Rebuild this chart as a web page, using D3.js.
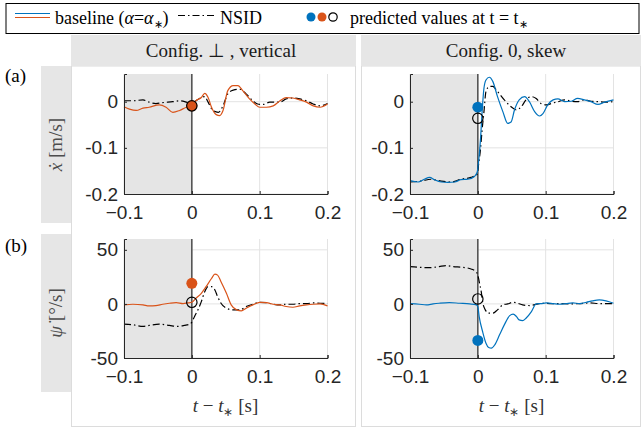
<!DOCTYPE html>
<html>
<head>
<meta charset="utf-8">
<script src="https://cdn.jsdelivr.net/npm/d3@7"></script>
<style>
  body { margin: 0; background: #fff; }
  svg { display: block; }
</style>
</head>
<body>
<svg id="chart" width="644" height="428"></svg>
<script>
// tick values
const xTicks = [-0.1, 0, 0.1, 0.2];
const yTicksVel = [-0.2, -0.1, 0];
const yTicksYaw = [-50, 0, 50];

// (a) Config ⊥, vertical : x-dot [m/s]
const aLeftBase = [[-0.1,-0.011],[-0.092,-0.016],[-0.082,-0.019],[-0.072,-0.014],[-0.063,-0.012],[-0.048,-0.007],[-0.038,-0.012],[-0.028,-0.023],[-0.018,-0.019],[-0.008,-0.012],[0,-0.009],[0.006,0.002],[0.014,0.009],[0.019,0.018],[0.024,0.009],[0.029,-0.012],[0.036,-0.028],[0.041,-0.030],[0.046,-0.019],[0.053,0.024],[0.061,0.035],[0.068,0.035],[0.075,0.024],[0.085,0.006],[0.093,-0.005],[0.1,-0.012],[0.11,-0.012],[0.12,-0.009],[0.13,0.002],[0.139,0.009],[0.149,0.008],[0.159,0.004],[0.169,-0.001],[0.179,-0.009],[0.189,-0.012],[0.2,-0.005]];
const aLeftNsid = [[-0.1,0.002],[-0.087,0.002],[-0.072,0.004],[-0.063,-0.001],[-0.053,-0.004],[-0.043,-0.002],[-0.028,0],[-0.018,0.002],[-0.008,-0.001],[0,-0.005],[0.006,0.002],[0.014,0.009],[0.019,0.011],[0.024,-0.001],[0.031,-0.019],[0.039,-0.023],[0.046,-0.009],[0.053,0.017],[0.061,0.025],[0.071,0.027],[0.08,0.017],[0.09,0.002],[0.097,-0.005],[0.105,-0.006],[0.115,-0.001],[0.13,-0.001],[0.139,0.006],[0.149,0.008],[0.159,0.006],[0.169,0.002],[0.179,-0.005],[0.189,-0.009],[0.2,-0.004]];
const aLeftPred = { base: -0.009, nsid: -0.009 };

// (a) Config 0, skew
const aRightBase = [[-0.1,-0.171],[-0.088,-0.174],[-0.079,-0.168],[-0.071,-0.164],[-0.064,-0.169],[-0.054,-0.174],[-0.044,-0.175],[-0.034,-0.174],[-0.025,-0.169],[-0.015,-0.168],[-0.005,-0.162],[-0.001,-0.153],[0.0015,-0.124],[0.004,-0.080],[0.006,-0.029],[0.009,0.029],[0.012,0.047],[0.017,0.053],[0.022,0.044],[0.029,0.011],[0.037,-0.022],[0.044,-0.047],[0.049,-0.044],[0.054,-0.018],[0.061,0.004],[0.069,0.011],[0.076,0],[0.084,-0.022],[0.091,-0.031],[0.096,-0.026],[0.103,-0.007],[0.111,0.004],[0.118,0.006],[0.128,0],[0.138,0.001],[0.147,0.007],[0.157,0.004],[0.167,0],[0.177,-0.006],[0.187,-0.001],[0.2,0.004]];
const aRightNsid = [[-0.1,-0.174],[-0.084,-0.172],[-0.069,-0.168],[-0.054,-0.172],[-0.039,-0.174],[-0.025,-0.168],[-0.010,-0.164],[-0.001,-0.157],[0.0015,-0.131],[0.004,-0.102],[0.006,-0.066],[0.009,-0.022],[0.012,0.022],[0.017,0.033],[0.022,0.033],[0.029,0.022],[0.039,0.004],[0.049,-0.011],[0.057,-0.018],[0.064,-0.011],[0.071,0.004],[0.079,0.011],[0.086,0.007],[0.093,-0.004],[0.101,-0.007],[0.108,-0.004],[0.118,0],[0.128,0.004],[0.138,0.001],[0.147,0],[0.157,0.004],[0.167,0.001],[0.177,0],[0.187,-0.001],[0.2,0]];
const aRightPred = { base: -0.012, nsid: -0.036 };

// (b) Config ⊥, vertical : psi-dot [deg/s]
const bLeftBase = [[-0.1,-0.9],[-0.087,-0.3],[-0.072,-0.9],[-0.063,-1.8],[-0.053,-1.5],[-0.043,-0.3],[-0.033,0.6],[-0.023,1.2],[-0.013,0.3],[-0.006,0.9],[0,1.5],[0.006,5.2],[0.014,9.8],[0.021,15.9],[0.029,23.5],[0.034,27.5],[0.038,26.6],[0.043,20.5],[0.051,9.8],[0.058,-0.9],[0.066,-5.5],[0.073,-6.4],[0.08,-4.0],[0.09,-0.9],[0.1,1.5],[0.11,1.2],[0.12,-0.3],[0.13,-0.9],[0.139,-2.4],[0.149,-3.1],[0.159,-1.8],[0.169,-0.9],[0.179,-0.3],[0.189,0],[0.2,-1.8]];
const bLeftNsid = [[-0.1,-18.7],[-0.087,-19.3],[-0.072,-20.8],[-0.063,-19.9],[-0.048,-18.7],[-0.033,-19.9],[-0.021,-20.8],[-0.011,-19.9],[-0.003,-18.7],[0,-16.8],[0.004,-11.6],[0.009,-5.5],[0.014,2.1],[0.019,11.3],[0.024,15.9],[0.029,15.9],[0.034,12.8],[0.038,6.7],[0.043,0.6],[0.051,-4.0],[0.061,-5.5],[0.071,-5.5],[0.08,-2.4],[0.09,-0.3],[0.1,1.5],[0.11,1.2],[0.12,-0.3],[0.13,-0.9],[0.139,-0.3],[0.149,-0.3],[0.159,0.3],[0.169,0.3],[0.179,0.9],[0.189,0.6],[0.2,0.3]];
const bLeftPred = { base: 19, nsid: 1.5 };

// (b) Config 0, skew
const bRightBase = [[-0.1,0.3],[-0.086,-0.3],[-0.076,-0.9],[-0.066,0],[-0.057,0.6],[-0.042,1.2],[-0.027,0.6],[-0.012,0],[-0.002,-0.9],[0,-2.5],[0.002,-11.7],[0.007,-25.5],[0.012,-36.3],[0.016,-40.3],[0.02,-40.9],[0.025,-37.8],[0.032,-28.6],[0.039,-19.4],[0.047,-10.8],[0.052,-9.5],[0.057,-11.7],[0.061,-14.8],[0.066,-15.4],[0.071,-13.2],[0.079,-7.1],[0.086,0],[0.093,0.3],[0.101,0.9],[0.111,0.3],[0.12,-0.3],[0.13,0.3],[0.14,0.9],[0.15,0.3],[0.16,1.5],[0.169,2.8],[0.179,3.7],[0.189,2.8],[0.2,0.6]];
const bRightNsid = [[-0.1,34.5],[-0.086,33.8],[-0.071,33.5],[-0.057,34.5],[-0.047,35.4],[-0.037,34.5],[-0.022,33.8],[-0.010,32.3],[-0.003,29.8],[0,26.8],[0.002,20.6],[0.005,11.4],[0.007,2.2],[0.011,-5.5],[0.016,-8.6],[0.022,-8.6],[0.029,-5.5],[0.037,-0.9],[0.044,0],[0.052,1.5],[0.059,0.6],[0.066,-0.9],[0.076,-1.5],[0.086,-0.3],[0.096,0.6],[0.106,0.3],[0.12,0.3],[0.135,0],[0.15,0.3],[0.165,0.9],[0.179,0.3],[0.2,0.3]];
const bRightPred = { base: -33.8, nsid: 4.6 };

const blue = "#0072BD", orange = "#D95319";
const SERIF = "'Liberation Serif', 'Times New Roman', serif";
const SANS = "'Liberation Sans', Arial, sans-serif";

const svg = d3.select("#chart");

// legend
const leg = svg.append("g");
leg.append("rect").attr("x", 6).attr("y", 3.5).attr("width", 633).attr("height", 30)
  .attr("fill", "#fff").attr("stroke", "#000").attr("stroke-width", 1);
leg.append("line").attr("x1", 15).attr("x2", 50).attr("y1", 13.5).attr("y2", 13.5).attr("stroke", blue).attr("stroke-width", 1.2);
leg.append("line").attr("x1", 15).attr("x2", 50).attr("y1", 17.5).attr("y2", 17.5).attr("stroke", orange).attr("stroke-width", 1.2);
const t1 = leg.append("text").style("font-family", SERIF).attr("x", 55).attr("y", 23.5).attr("font-size", 18);
t1.append("tspan").text("baseline (");
t1.append("tspan").attr("font-style", "italic").text("α");
t1.append("tspan").text("=");
t1.append("tspan").attr("font-style", "italic").text("α");
t1.append("tspan").attr("font-size", 11).attr("dy", 4).text("∗");
t1.append("tspan").attr("dy", -4).text(")");
leg.append("line").attr("x1", 178).attr("x2", 215).attr("y1", 15.5).attr("y2", 15.5)
  .attr("stroke", "#000").attr("stroke-width", 1.2).attr("stroke-dasharray", "7,3,1.5,3");
leg.append("text").style("font-family", SERIF).attr("x", 220).attr("y", 23.5).attr("font-size", 18).text("NSID");
leg.append("circle").attr("cx", 311).attr("cy", 17).attr("r", 4.5).attr("fill", blue);
leg.append("circle").attr("cx", 322).attr("cy", 17).attr("r", 4.5).attr("fill", orange);
leg.append("circle").attr("cx", 333).attr("cy", 17).attr("r", 4.2).attr("fill", "none").attr("stroke", "#000").attr("stroke-width", 1.2);
const t2 = leg.append("text").style("font-family", SERIF).attr("x", 350).attr("y", 23.5).attr("font-size", 18);
t2.append("tspan").text("predicted values at t = t");
t2.append("tspan").attr("font-size", 11).attr("dy", 4).text("∗");

// column frames and headers
const cols = [
  { x0: 71, x1: 356, title: "Config. ⊥ , vertical", tx: 221 },
  { x0: 361, x1: 641, title: "Config. 0, skew", tx: 506 }
];
cols.forEach(c => {
  svg.append("rect").attr("x", c.x0 + 0.5).attr("y", 66).attr("width", c.x1 - c.x0 - 1).attr("height", 360.5)
    .attr("fill", "#fff").attr("stroke", "#dcdcdc").attr("stroke-width", 1);
  svg.append("rect").attr("x", c.x0).attr("y", 35).attr("width", c.x1 - c.x0).attr("height", 31).attr("fill", "#e6e6e6");
  svg.append("text").style("font-family", SERIF).attr("x", c.tx).attr("y", 57).attr("text-anchor", "middle")
    .attr("font-size", 19).attr("fill", "#1a1a1a").text(c.title);
});

// row strips with y labels
const rows = [
  { y0: 66, y1: 223, tag: "(a)", tagY: 82 },
  { y0: 234, y1: 392, tag: "(b)", tagY: 252 }
];
rows.forEach((r, i) => {
  svg.append("rect").attr("x", 41).attr("y", r.y0).attr("width", 30).attr("height", r.y1 - r.y0).attr("fill", "#e6e6e6");
  svg.append("text").style("font-family", SERIF).attr("x", 5).attr("y", r.tagY).attr("font-size", 19).text(r.tag);
  const cy = (r.y0 + r.y1) / 2;
  const lab = svg.append("text").style("font-family", SERIF).attr("transform", `translate(62,${cy}) rotate(-90)`)
    .attr("text-anchor", "middle").attr("font-size", 19).attr("fill", "#4d4d4d");
  if (i === 0) {
    lab.append("tspan").attr("font-style", "italic").text("ẋ");
    lab.append("tspan").text(" [m/s]");
  } else {
    lab.append("tspan").attr("font-style", "italic").text("ψ̇");
    lab.append("tspan").text(" [°/s]");
  }
});

// x labels
[225.5, 511.5].forEach(cx => {
  const xl = svg.append("text").style("font-family", SERIF).attr("x", cx).attr("y", 412).attr("text-anchor", "middle")
    .attr("font-size", 19).attr("fill", "#333");
  xl.append("tspan").attr("font-style", "italic").text("t");
  xl.append("tspan").text(" − ");
  xl.append("tspan").attr("font-style", "italic").text("t");
  xl.append("tspan").attr("font-size", 12).attr("dy", 4).text("∗");
  xl.append("tspan").attr("dy", -4).text("  [s]");
});

// panels
const panels = [
  { xr: [124, 327.5], yr: [194, 74], yd: [-0.2, 0.06], yt: yTicksVel, base: aLeftBase, nsid: aLeftNsid, pred: aLeftPred, col: orange },
  { xr: [410, 613.5], yr: [194, 74], yd: [-0.2, 0.06], yt: yTicksVel, base: aRightBase, nsid: aRightNsid, pred: aRightPred, col: blue },
  { xr: [124, 327.5], yr: [358, 239], yd: [-50, 60], yt: yTicksYaw, base: bLeftBase, nsid: bLeftNsid, pred: bLeftPred, col: orange },
  { xr: [410, 613.5], yr: [358, 239], yd: [-50, 60], yt: yTicksYaw, base: bRightBase, nsid: bRightNsid, pred: bRightPred, col: blue }
];

panels.forEach(p => {
  const x = d3.scaleLinear().domain([-0.1, 0.2]).range(p.xr);
  const y = d3.scaleLinear().domain(p.yd).range(p.yr);
  const g = svg.append("g");

  // grid
  g.selectAll(".gx").data(xTicks).join("line")
    .attr("x1", d => x(d)).attr("x2", d => x(d)).attr("y1", p.yr[0]).attr("y2", p.yr[1])
    .attr("stroke", "#e3e3e3").attr("stroke-width", 1);
  g.selectAll(".gy").data(p.yt).join("line")
    .attr("x1", p.xr[0]).attr("x2", p.xr[1]).attr("y1", d => y(d)).attr("y2", d => y(d))
    .attr("stroke", "#e3e3e3").attr("stroke-width", 1);

  // shaded pre-event region
  g.append("rect").attr("x", x(-0.1)).attr("y", p.yr[1]).attr("width", x(0) - x(-0.1)).attr("height", p.yr[0] - p.yr[1])
    .attr("fill", "#e5e5e5");
  g.append("line").attr("x1", x(0)).attr("x2", x(0)).attr("y1", p.yr[0]).attr("y2", p.yr[1])
    .attr("stroke", "#404040").attr("stroke-width", 1.4);

  const line = d3.line().x(d => x(d[0])).y(d => y(d[1])).curve(d3.curveMonotoneX);
  g.append("path").attr("d", line(p.nsid)).attr("fill", "none").attr("stroke", "#000")
    .attr("stroke-width", 1.2).attr("stroke-dasharray", "7,3,1.5,3");
  g.append("path").attr("d", line(p.base)).attr("fill", "none").attr("stroke", p.col).attr("stroke-width", 1.2);

  g.append("circle").attr("cx", x(0)).attr("cy", y(p.pred.base)).attr("r", 5.5).attr("fill", p.col);
  g.append("circle").attr("cx", x(0)).attr("cy", y(p.pred.nsid)).attr("r", 5.2).attr("fill", "none")
    .attr("stroke", "#000").attr("stroke-width", 1.2);

  // axes
  const ax = g.append("g").attr("transform", `translate(0,${p.yr[0]})`)
    .call(d3.axisBottom(x).tickValues(xTicks).tickSize(-3).tickPadding(11).tickFormat(d3.format("")));
  const ay = g.append("g").attr("transform", `translate(${p.xr[0]},0)`)
    .call(d3.axisLeft(y).tickValues(p.yt).tickSize(-3).tickPadding(6).tickFormat(d => String(d)));
  [ax, ay].forEach(a => {
    a.attr("font-family", null).attr("font-size", null);
    a.select(".domain").attr("stroke", "#262626").attr("stroke-width", 1);
    a.selectAll(".tick line").attr("stroke", "#262626");
    a.selectAll("text").style("font-family", SANS).attr("font-size", 19).attr("fill", "#262626");
  });
  ax.selectAll("text").attr("dy", "0.72em");
});
</script>
</body>
</html>
